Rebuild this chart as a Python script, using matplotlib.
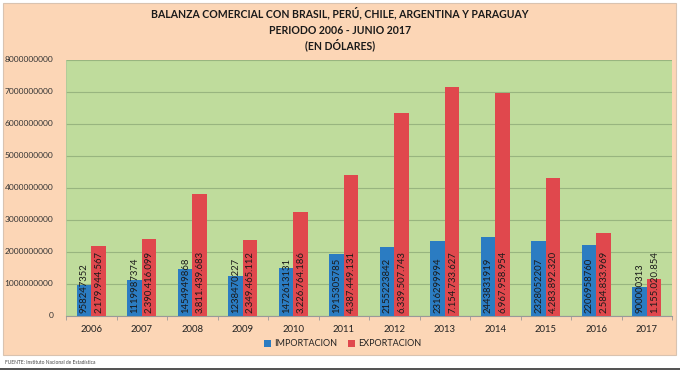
import matplotlib
matplotlib.use("Agg")
import matplotlib.pyplot as plt
from matplotlib.patches import Rectangle, Patch
import numpy as np

plt.rcParams['font.family'] = ['Lato', 'DejaVu Sans']

years = ["2006", "2007", "2008", "2009", "2010", "2011", "2012", "2013", "2014", "2015", "2016", "2017"]
importacion = [958247352, 1119987374, 1454949868, 1238470227, 1472613131, 1915305785,
               2155223842, 2316299994, 2443831919, 2328052207, 2206958760, 900000313]
exportacion = [2179944567, 2390416099, 3811439683, 2349465112, 3226764186, 4387449131,
               6339507743, 7154733627, 6967958954, 4283892320, 2584833969, 1155020854]
yticks = [0, 1000000000, 2000000000, 3000000000, 4000000000, 5000000000, 6000000000, 7000000000, 8000000000]
title_lines = ["BALANZA COMERCIAL CON BRASIL, PERÚ, CHILE, ARGENTINA Y PARAGUAY",
               "PERIODO 2006 - JUNIO 2017",
               "(EN DÓLARES)"]
series_names = ["IMPORTACION", "EXPORTACION"]
source = "FUENTE: Instituto Nacional de Estadística"

W, H = 680, 370
fig = plt.figure(figsize=(6.8, 3.7), dpi=100)
fig.patch.set_facecolor("white")

# peach panel
fig.patches.append(Rectangle((3 / W, (H - 355) / H), 673 / W, 352 / H, transform=fig.transFigure,
                             facecolor="#fcd6b6", edgecolor="#d9c3b0", linewidth=0.8, zorder=-2))
# bottom shadow line
fig.patches.append(Rectangle((0, 0), 1, 2.5 / H, transform=fig.transFigure,
                             facecolor="#555555", edgecolor="none", zorder=-2))

ax = fig.add_axes([66 / W, (H - 315.5) / H, 606 / W, 256 / H])
ax.set_facecolor("#bfdc9c")

blue = "#2b7cc2"
red = "#e0484d"
x = np.arange(len(years))
w = 0.29
b1 = ax.bar(x - w / 2, importacion, w, color=blue, zorder=3)
b2 = ax.bar(x + w / 2, exportacion, w, color=red, zorder=3)

for xi, v in zip(x - w / 2, importacion):
    ax.annotate(str(v), xy=(xi, 0), xytext=(0.3, 2), textcoords="offset points",
                rotation=90, ha="center", va="bottom", fontsize=6.8, color="#1a1a1a", zorder=4)
for xi, v in zip(x + w / 2, exportacion):
    ax.annotate(f"{v:,}".replace(",", "."), xy=(xi, 0), xytext=(0.3, 2), textcoords="offset points",
                rotation=90, ha="center", va="bottom", fontsize=6.8, color="#1a1a1a", zorder=4)

ax.set_xlim(-0.5, len(years) - 0.5)
ax.set_ylim(0, 8000000000)
ax.set_yticks(yticks)
ax.set_yticklabels([str(t) for t in yticks], fontsize=6.0, color="#333333")
ax.set_xticks(x)
ax.set_xticklabels(years, fontsize=6.8, color="#222222")
ax.set_xticks(np.arange(-0.5, len(years), 1), minor=True)
ax.tick_params(axis="x", which="major", length=0, pad=7)
ax.tick_params(axis="x", which="minor", length=3, color="#999999")
ax.tick_params(axis="y", length=0, pad=9)
ax.yaxis.grid(True, color="#98b57f", linewidth=0.8, zorder=1)
ax.set_axisbelow(True)
for s in ["top", "right"]:
    ax.spines[s].set_visible(False)
ax.spines["left"].set_color("#b0c89a")
ax.spines["bottom"].set_color("#999999")
ax.spines["left"].set_linewidth(0.6)

for i, (t, yy) in enumerate(zip(title_lines, [13, 30, 45])):
    fig.text(340 / W, 1 - yy / H, t, ha="center", va="center", fontsize=7.6, fontweight="bold", color="#1a1a1a")

handles = [Patch(facecolor=blue), Patch(facecolor=red)]
fig.legend(handles, series_names, loc="center", bbox_to_anchor=(343 / W, 1 - 344 / H), ncol=2,
           frameon=False, fontsize=6.5, handlelength=0.7, handleheight=0.7, handletextpad=0.4,
           columnspacing=1.2, labelcolor="#222222")

fig.text(5 / W, 1 - 363 / H, source, ha="left", va="center", fontsize=3.5, color="#444444")

fig.savefig("out.png", dpi=100, facecolor=fig.get_facecolor())
